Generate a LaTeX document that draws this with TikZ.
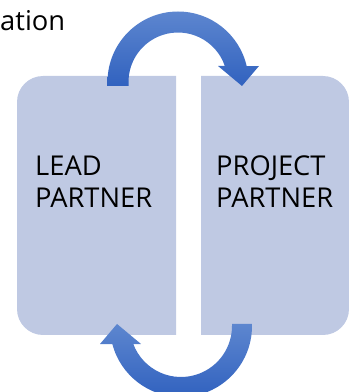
\documentclass[tikz,border=0pt]{standalone}
\usepackage{fontspec}
\setmainfont{Open Sans}
\usepackage{tikz}

\definecolor{boxfill}{RGB}{191,201,227}
\definecolor{arrowlight}{RGB}{93,134,207}
\definecolor{arrowdark}{RGB}{49,98,191}

\begin{document}
\begin{tikzpicture}[x=1pt, y=1pt,
    partnerbox/.style={fill=boxfill},
    bentarrow/.style={top color=arrowlight, bottom color=arrowdark},
    boxtext/.style={font=\fontsize{27.3}{33}\selectfont, align=left, anchor=base west, inner sep=0pt}]
    \useasboundingbox (0,0) rectangle (349,392);
    \clip (0,0) rectangle (349,392);

    % --- Partner boxes ---
    \fill[partnerbox] (176,316) [rounded corners=26] -- (17,316) -- (17,57) [sharp corners] -- (176,57) -- cycle;
    \fill[partnerbox] (201,57) [rounded corners=26] -- (349,57) -- (349,316) [sharp corners] -- (201,316) -- cycle;

    % Texts
    \node[boxtext] (caption) at (0,361) {ation};
    \node[boxtext] (lead) at (35,184) {LEAD\\PARTNER};
    \node[boxtext] (project) at (216,184) {PROJECT\\PARTNER};

    % --- Curved arrows ---
    \coordinate (c1) at (178,310);
    \coordinate (c2) at (181,66);
    % lead -> project (over the top)
    \shade[bentarrow] (107.5,306) -- ([shift={(180:70.5)}]c1)
        arc[start angle=180, end angle=13.1, radius=70.5]
        -- (259,326) -- (242,306) -- (218,326)
        -- ([shift={(18.9:49.5)}]c1) arc[start angle=18.9, end angle=180, radius=49.5]
        -- (128.5,306) -- cycle;
    % project -> lead (under the bottom)
    \shade[bentarrow] (252,68) -- ([shift={(0:71)}]c2)
        arc[start angle=0, end angle=-165.3, radius=71]
        -- (100,48) -- (117,68) -- (141,48)
        -- ([shift={(-159.3:51)}]c2) arc[start angle=-159.3, end angle=0, radius=51]
        -- (232,68) -- cycle;
\end{tikzpicture}
\end{document}
